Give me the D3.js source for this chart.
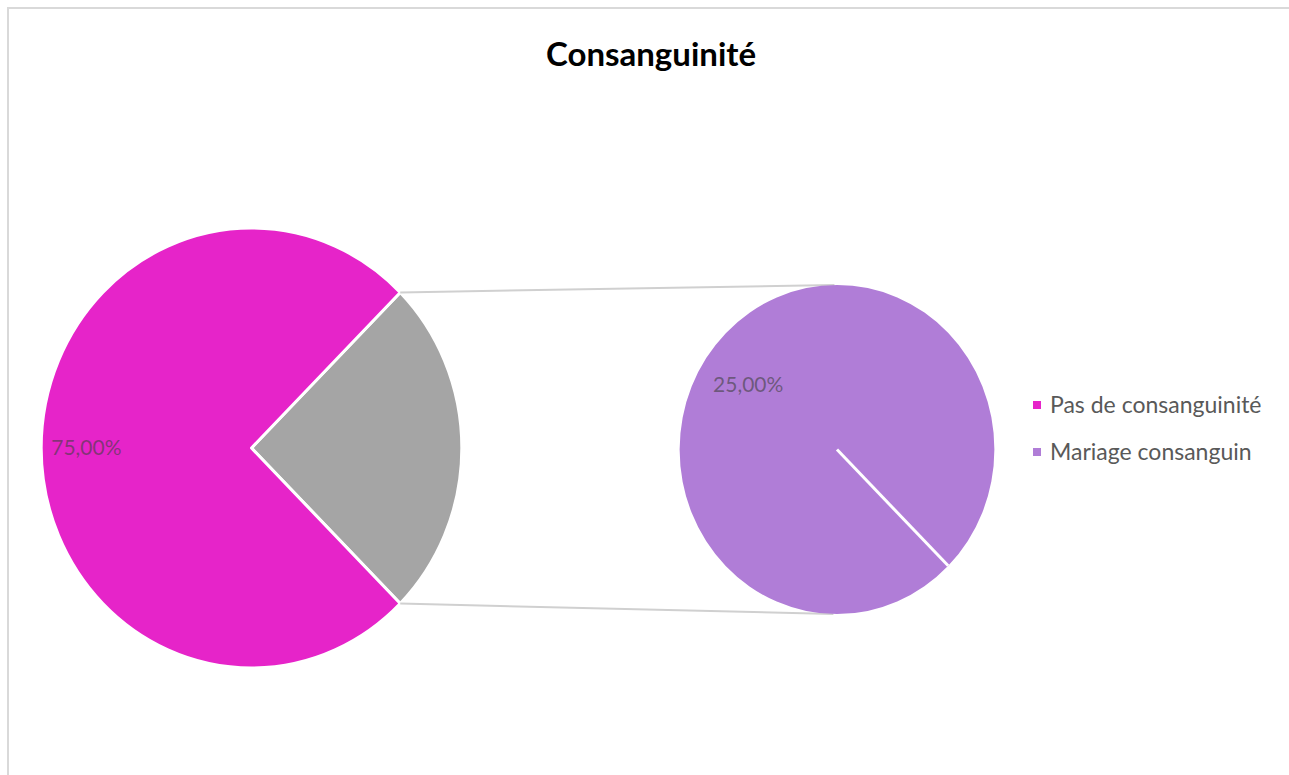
<!DOCTYPE html>
<html lang="fr">
<head>
<meta charset="utf-8">
<title>Consanguinité</title>
<script src="https://cdn.jsdelivr.net/npm/d3@7"></script>
<style>
  body { margin: 0; background: #fff; }
  text { font-family: Lato, "Open Sans", sans-serif; }
</style>
</head>
<body>
<script>
// data
var categories = ["Pas de consanguinité", "Mariage consanguin"];
var values = [75, 25];
var labels = ["75,00%", "25,00%"];
var colors = ["#e624c9", "#b07dd7"];
var otherColor = "#a5a5a5";

var width = 1289, height = 775;
// the original picture is a little squeezed horizontally
var sx = 0.956;

var svg = d3.select("body").append("svg")
    .attr("width", width)
    .attr("height", height);

// chart frame
svg.append("path")
    .attr("d", "M8,775 L8,8 L1289,8")
    .attr("fill", "none")
    .attr("stroke", "#d9d9d9")
    .attr("stroke-width", 2);

// title
svg.append("text")
    .attr("x", 651)
    .attr("y", 66)
    .attr("text-anchor", "middle")
    .attr("font-size", "33px")
    .attr("font-weight", "bold")
    .attr("fill", "#000")
    .text("Consanguinité");

var main = { cx: 251.5, cy: 448, r: 220 };
var second = { cx: 837, cy: 449.5, r: 164.5 };

// main pie: first category + "other" slice holding the rest
var mainData = [
    { name: categories[0], value: values[0], color: colors[0], label: labels[0] },
    { name: "Autre", value: d3.sum(values.slice(1)), color: otherColor, label: null }
];

var mainPie = d3.pie()
    .sort(null)
    .value(function(d) { return d.value; });

// rotate so that the "other" slice is centered on the right side
var mainArcs = mainPie(mainData.slice().reverse());
var otherSpan = mainArcs[0].endAngle - mainArcs[0].startAngle;
var shift = Math.PI / 2 - otherSpan / 2;
mainArcs.forEach(function(a) { a.startAngle += shift; a.endAngle += shift; });

var arcMain = d3.arc().innerRadius(0).outerRadius(main.r);
var labelArcMain = d3.arc().innerRadius(main.r * 0.785).outerRadius(main.r * 0.785);

var gMain = svg.append("g")
    .attr("transform", "translate(" + main.cx + "," + main.cy + ")");

gMain.append("g")
    .attr("transform", "scale(" + sx + ",1)")
    .selectAll("path")
    .data(mainArcs)
    .enter()
    .append("path")
    .attr("d", arcMain)
    .attr("fill", function(d) { return d.data.color; })
    .attr("stroke", "#fff")
    .attr("stroke-width", 3)
    .attr("vector-effect", "non-scaling-stroke")
    .attr("stroke-linejoin", "round");

gMain.selectAll("text")
    .data(mainArcs.filter(function(d) { return d.data.label; }))
    .enter()
    .append("text")
    .attr("transform", function(d) {
        var c = labelArcMain.centroid(d);
        return "translate(" + (c[0] * sx) + "," + c[1] + ")";
    })
    .attr("text-anchor", "middle")
    .attr("dy", "0.35em")
    .attr("font-size", "21px")
    .attr("fill", "#404040")
    .attr("fill-opacity", 0.6)
    .text(function(d) { return d.data.label; });

// connector lines from the "other" slice edges to the second pie
var other = mainArcs[0];
function edgePoint(angle) {
    return [main.cx + sx * main.r * Math.sin(angle), main.cy - main.r * Math.cos(angle)];
}
function tangentPoint(p, upper) {
    // work in unsqueezed space, then squeeze back
    var dx = (p[0] - second.cx) / sx, dy = p[1] - second.cy;
    var d = Math.sqrt(dx * dx + dy * dy);
    var base = Math.atan2(dy, dx);
    var off = Math.acos(second.r / d);
    var a = upper ? base + off : base - off;
    return [second.cx + sx * second.r * Math.cos(a), second.cy + second.r * Math.sin(a)];
}
var pTop = edgePoint(other.startAngle);
var pBot = edgePoint(other.endAngle);
var connectors = [[pTop, tangentPoint(pTop, true)], [pBot, tangentPoint(pBot, false)]];

svg.selectAll("line.connector")
    .data(connectors)
    .enter()
    .append("line")
    .attr("class", "connector")
    .attr("x1", function(d) { return d[0][0]; })
    .attr("y1", function(d) { return d[0][1]; })
    .attr("x2", function(d) { return d[1][0]; })
    .attr("y2", function(d) { return d[1][1]; })
    .attr("stroke", "#d0d0d0")
    .attr("stroke-width", 2);

// second pie: the categories inside "other"
var secondData = [
    { name: categories[1], value: values[1], color: colors[1], label: labels[1] }
];

var secondPie = d3.pie()
    .sort(null)
    .value(function(d) { return d.value; })
    .startAngle(3 * Math.PI / 4)
    .endAngle(3 * Math.PI / 4 + 2 * Math.PI);

var secondArcs = secondPie(secondData);
var arcSecond = d3.arc().innerRadius(0).outerRadius(second.r);

var gSecond = svg.append("g")
    .attr("transform", "translate(" + second.cx + "," + second.cy + ")");

var gSecondShape = gSecond.append("g")
    .attr("transform", "scale(" + sx + ",1)");

gSecondShape.selectAll("path")
    .data(secondArcs)
    .enter()
    .append("path")
    .attr("d", arcSecond)
    .attr("fill", function(d) { return d.data.color; });

// white boundary line where the single slice starts
gSecondShape.selectAll("line")
    .data(secondArcs)
    .enter()
    .append("line")
    .attr("x1", 0)
    .attr("y1", 0)
    .attr("x2", function(d) { return second.r * Math.sin(d.startAngle); })
    .attr("y2", function(d) { return -second.r * Math.cos(d.startAngle); })
    .attr("stroke", "#fff")
    .attr("stroke-width", 3)
    .attr("vector-effect", "non-scaling-stroke");

// label sits in the upper-left part of the second pie
gSecond.selectAll("text")
    .data(secondArcs)
    .enter()
    .append("text")
    .attr("transform", function(d) {
        var a = d.startAngle + Math.PI * 0.945;
        var rr = second.r * 0.69;
        return "translate(" + (sx * rr * Math.sin(a)) + "," + (-rr * Math.cos(a)) + ")";
    })
    .attr("text-anchor", "middle")
    .attr("dy", "0.35em")
    .attr("font-size", "21px")
    .attr("fill", "#404040")
    .attr("fill-opacity", 0.6)
    .text(function(d) { return d.data.label; });

// legend
var legend = svg.append("g")
    .attr("transform", "translate(1033,405)");

var items = legend.selectAll("g")
    .data(categories)
    .enter()
    .append("g")
    .attr("transform", function(d, i) { return "translate(0," + (i * 47) + ")"; });

items.append("rect")
    .attr("x", 0)
    .attr("y", -4)
    .attr("width", 8)
    .attr("height", 8)
    .attr("fill", function(d, i) { return colors[i]; });

items.append("text")
    .attr("x", 17)
    .attr("dy", "0.35em")
    .attr("font-size", "23px")
    .attr("fill", "#595959")
    .text(function(d) { return d; });
</script>
</body>
</html>
